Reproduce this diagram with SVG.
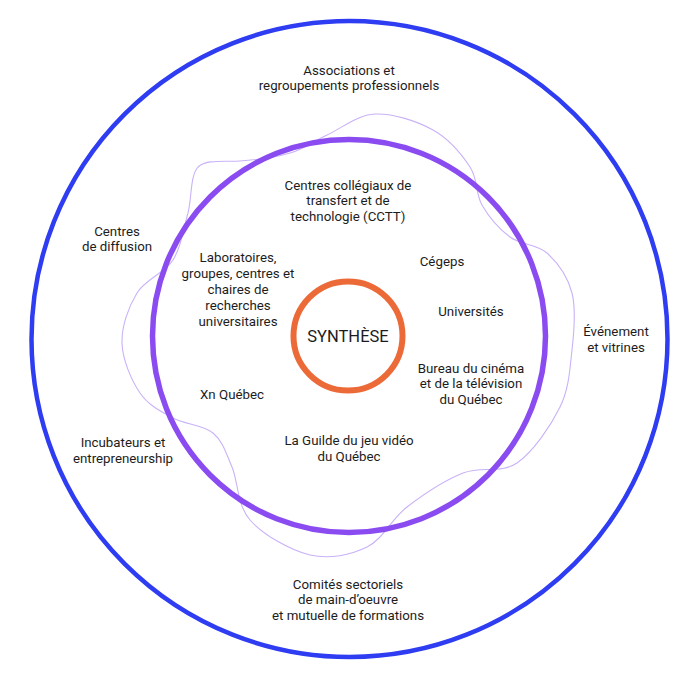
<svg xmlns="http://www.w3.org/2000/svg" width="700" height="674" viewBox="0 0 700 674">
<style>
.t{font-family:Roboto,"Liberation Sans",sans-serif;font-size:13.3px;fill:#1c1c1c;text-anchor:middle}
.big{font-size:16.5px}
</style>
<rect width="700" height="674" fill="#ffffff"/>
<g id="outer-ring"><circle cx="349.5" cy="339" r="318" fill="none" stroke="#2e3cf2" stroke-width="4.5"/></g>
<g id="blob"><path fill="none" stroke="#c9b2f8" stroke-width="1.1" d="M188,213 C192,197 190,176 198,167 C206,159 225,162 240,161 C255,160 275.5,157.3 290,153 C304.5,148.7 312.8,141.5 327,135 C341.2,128.5 357.3,114.8 375,114 C392.7,113.2 417.2,121.2 433,130 C448.8,138.8 461.8,154.5 470,167 C478.2,179.5 475.3,193.3 482,205 C488.7,216.7 499.2,229 510,237 C520.8,245 536.7,243.7 547,253 C557.3,262.3 567.8,276.8 572,293 C576.2,309.2 574.2,331 572,350 C569.8,369 569.2,388.2 560,407 C550.8,425.8 533.2,452 517,463 C500.8,474 481.3,465.7 463,473 C444.7,480.3 423,494.7 407,507 C391,519.3 383.2,539 367,547 C350.8,555 329.5,559.5 310,555 C290.5,550.5 263,534.7 250,520 C237,505.3 238.2,481.5 232,467 C225.8,452.5 222.8,441.2 213,433 C203.2,424.8 185.2,424.7 173,418 C160.8,411.3 148.5,405.5 140,393 C131.5,380.5 122.5,359.7 122,343 C121.5,326.3 128.5,306.8 137,293 C145.5,279.2 164.5,273.3 173,260 C181.5,246.7 183.5,228.8 188,213 Z"/></g>
<g id="middle-ring"><circle cx="349" cy="336" r="196.5" fill="none" stroke="#8a4cf0" stroke-width="5.5"/></g>
<g id="core"><circle cx="348" cy="336" r="54.5" fill="#ffffff" stroke="#ec6a37" stroke-width="6"/><text class="t big" x="348" y="342">SYNTHÈSE</text></g>
<g id="associations"><text class="t" x="349" y="75">Associations et</text><text class="t" x="349" y="90">regroupements professionnels</text></g>
<g id="cctt"><text class="t" x="348" y="189.5">Centres collégiaux de</text><text class="t" x="348" y="205">transfert et de</text><text class="t" x="348" y="220.5">technologie (CCTT)</text></g>
<g id="diffusion"><text class="t" x="117" y="235.5">Centres</text><text class="t" x="117" y="250.5">de diffusion</text></g>
<g id="laboratoires"><text class="t" x="238" y="261.5">Laboratoires,</text><text class="t" x="238" y="277.5">groupes, centres et</text><text class="t" x="238" y="293.5">chaires de</text><text class="t" x="238" y="309.5">recherches</text><text class="t" x="238" y="325.5">universitaires</text></g>
<g id="cegeps"><text class="t" x="442" y="265.5">Cégeps</text></g>
<g id="universites"><text class="t" x="471" y="315.5">Universités</text></g>
<g id="evenement"><text class="t" x="616" y="335.5">Événement</text><text class="t" x="616" y="351.5">et vitrines</text></g>
<g id="bureau"><text class="t" x="471" y="372.5">Bureau du cinéma</text><text class="t" x="471" y="388">et de la télévision</text><text class="t" x="471" y="403.5">du Québec</text></g>
<g id="xn"><text class="t" x="232" y="398.5">Xn Québec</text></g>
<g id="incubateurs"><text class="t" x="123" y="446.5">Incubateurs et</text><text class="t" x="123" y="462.5">entrepreneurship</text></g>
<g id="guilde"><text class="t" x="349" y="444.5">La Guilde du jeu vidéo</text><text class="t" x="349" y="460.5">du Québec</text></g>
<g id="comites"><text class="t" x="348" y="588.5">Comités sectoriels</text><text class="t" x="348" y="604">de main-d’oeuvre</text><text class="t" x="348" y="619.5">et mutuelle de formations</text></g>
<g id="connectors"/>
</svg>
